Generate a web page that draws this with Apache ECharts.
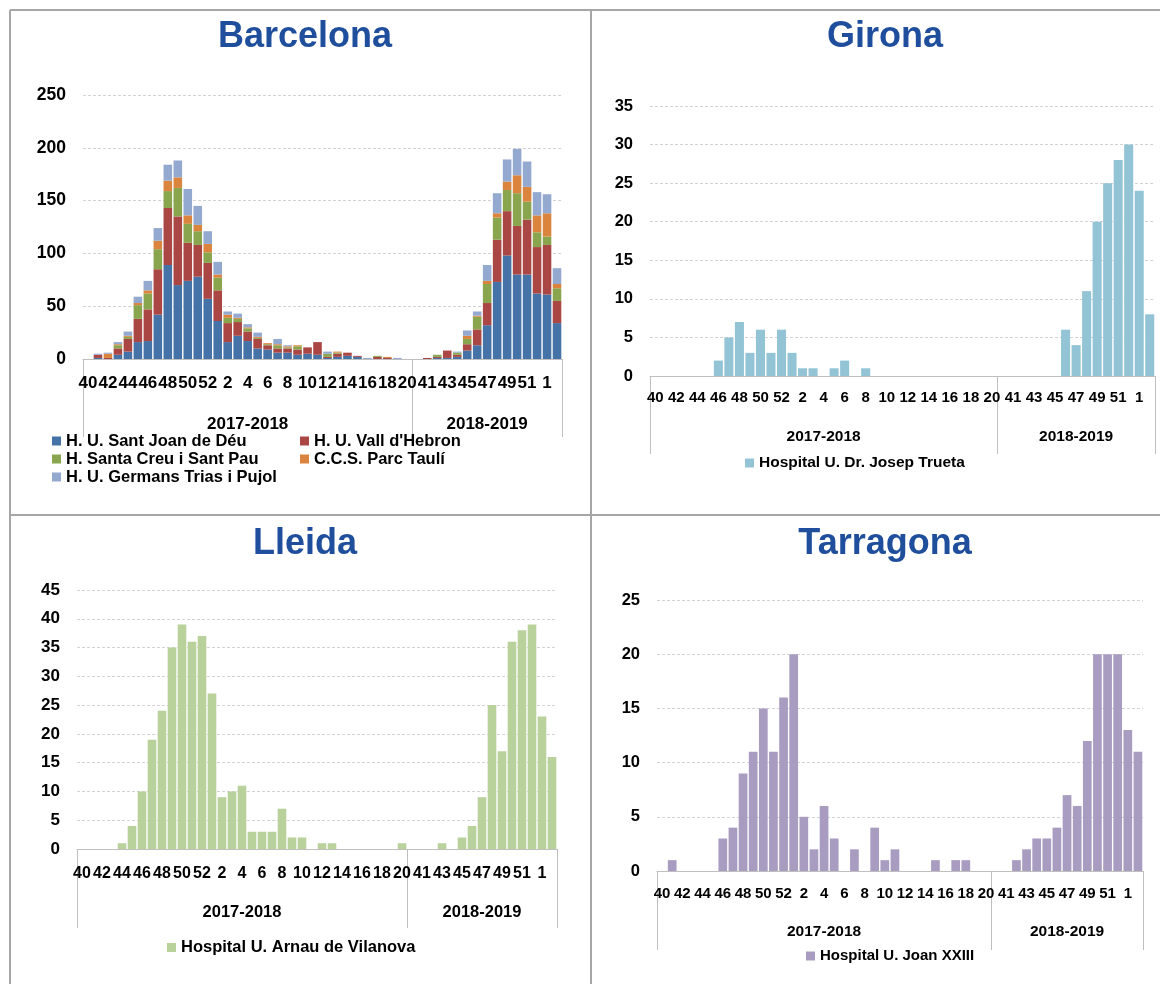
<!DOCTYPE html>
<html><head><meta charset="utf-8">
<script src="https://cdn.jsdelivr.net/npm/echarts@6/dist/echarts.min.js"></script>
<style>html,body{margin:0;padding:0;background:#fff}#c{width:1160px;height:984px}</style>
</head><body><div id="c"></div><script>
// ---- categories ----
const weeks1718 = [40,41,42,43,44,45,46,47,48,49,50,51,52,1,2,3,4,5,6,7,8,9,10,11,12,13,14,15,16,17,18,19,20];
const weeks1819 = [40,41,42,43,44,45,46,47,48,49,50,51,52,1,2];
const seasons = ['2017-2018', '2018-2019'];

// ---- Barcelona (stacked) ----
const bcnNames = ['H. U. Sant Joan de Déu', "H. U. Vall d'Hebron", 'H. Santa Creu i Sant Pau', 'C.C.S. Parc Taulí', 'H. U. Germans Trias i Pujol'];
const bcnSantJoan   = [0,1,0,4,7,16,17,42,89,70,74,78,57, 36,16,22,17,10,9,6,6,4,5,4,1,2,3,2,0,0,0,0,0, 0,0,1,1,2,8,13,32,73,98,80,80,62,61,34];
const bcnValldHebron= [0,3,1,6,12,22,30,43,54,65,36,30,34, 29,18,13,9,9,4,4,4,5,6,12,1,3,3,1,0,2,1,0,0, 0,1,1,7,2,6,15,21,40,42,46,52,44,47,21];
const bcnSantPau    = [0,0,0,3,2,13,15,19,16,27,18,13,10, 12,5,3,3,1,1,3,1,3,0,0,3,1,0,0,0,1,0,0,0, 0,0,2,0,2,5,12,18,21,20,31,17,14,8,12];
const bcnParcTauli  = [0,0,4,1,1,2,3,8,10,10,8,6,8, 3,3,1,1,1,1,1,1,1,0,0,0,1,0,0,0,0,1,0,0, 0,0,0,0,0,3,1,3,4,8,17,14,16,22,4];
const bcnGermansTrias=[0,1,1,2,4,6,9,12,15,16,25,18,12, 12,3,4,3,4,0,5,1,0,0,0,2,0,0,0,1,0,0,1,0, 0,0,0,0,1,5,4,15,19,21,25,24,22,18,15];

// ---- Girona ----
const gironaName = 'Hospital U. Dr. Josep Trueta';
const gironaVals = [0,0,0,0,0,0,2,5,7,3,6,3,6, 3,1,1,0,1,2,0,1,0,0,0,0,0,0,0,0,0,0,0,0, 0,0,0,0,0,0,6,4,11,20,25,28,30,24,8];

// ---- Lleida ----
const lleidaName = 'Hospital U. Arnau de Vilanova';
const lleidaVals = [0,0,0,0,1,4,10,19,24,35,39,36,37, 27,9,10,11,3,3,3,7,2,2,0,1,1,0,0,0,0,0,0,1, 0,0,0,1,0,2,4,9,25,17,36,38,39,23,16];

// ---- Tarragona ----
const tarragonaName = 'Hospital U. Joan XXIII';
const tarragonaVals = [0,1,0,0,0,0,3,4,9,11,15,11,16, 20,5,2,6,3,0,2,0,4,1,2,0,0,0,1,0,1,1,0,0, 0,0,1,2,3,3,4,7,6,12,20,20,20,13,11];

// ---- derived axis helpers ----
const seasonLens = [weeks1718.length, weeks1819.length];
const cats = weeks1718.map(w => seasons[0] + '|' + w).concat(weeks1819.map(w => seasons[1] + '|' + w));
const nCat = cats.length;
const bounds = [0, seasonLens[0], seasonLens[0] + seasonLens[1]];
const mids = [seasonLens[0] / 2, seasonLens[0] + seasonLens[1] / 2];

const FONT = '"Liberation Sans", Arial, sans-serif';
const AX = '#BFBFBF';

const panels = [
  {title: 'Barcelona', tx: 300, ty: 14, grid: {left: 83, top: 95, width: 479, height: 264}, max: 250, interval: 50, yfs: 17.5, cfs: 17, sfs: 17, cm: 16, sm: 57, tick: 78},
  {title: 'Girona', tx: 880, ty: 14, grid: {left: 650, top: 106, width: 505, height: 270}, max: 35, interval: 5, yfs: 16.5, cfs: 15, sfs: 15.5, cm: 14, sm: 53, tick: 78},
  {title: 'Lleida', tx: 300, ty: 521, grid: {left: 77, top: 590, width: 480, height: 259}, max: 45, interval: 5, yfs: 17, cfs: 16, sfs: 16.5, cm: 17, sm: 55, tick: 79},
  {title: 'Tarragona', tx: 880, ty: 521, grid: {left: 657, top: 600, width: 486, height: 271}, max: 25, interval: 5, yfs: 16.5, cfs: 15, sfs: 15.5, cm: 15, sm: 53, tick: 79}
];

const title = [], grid = [], xAxis = [], yAxis = [];
panels.forEach((p, g) => {
  title.push({text: p.title, left: p.tx, top: p.ty, textAlign: 'center',
    textStyle: {fontSize: 36, fontWeight: 'bold', color: '#1F4E9C', fontFamily: FONT}});
  grid.push(Object.assign({containLabel: false}, p.grid));
  xAxis.push({gridIndex: g, type: 'category', data: cats, boundaryGap: true,
    axisLine: {lineStyle: {color: AX, width: 1}}, axisTick: {show: false},
    axisLabel: {interval: 1, margin: p.cm, fontSize: p.cfs, fontWeight: 'bold', color: '#000', fontFamily: FONT,
      formatter: v => v.split('|')[1]}});
  xAxis.push({gridIndex: g, type: 'value', min: 0, max: nCat, position: 'bottom',
    axisLine: {show: false}, splitLine: {show: false},
    axisTick: {show: true, customValues: bounds, length: p.tick, lineStyle: {color: AX, width: 1}},
    axisLabel: {show: true, customValues: mids, margin: p.sm, fontSize: p.sfs, fontWeight: 'bold', color: '#000', fontFamily: FONT,
      formatter: v => seasons[mids.indexOf(v)]}});
  yAxis.push({gridIndex: g, type: 'value', min: 0, max: p.max, interval: p.interval,
    axisLine: {show: false}, axisTick: {show: false},
    axisLabel: {margin: 17, fontSize: p.yfs, fontWeight: 'bold', color: '#000', fontFamily: FONT},
    splitLine: {lineStyle: {color: '#D3D3D3', type: [3, 2], width: 1}}});
});

const bcnColors = ['#4572A7', '#AA4643', '#89A54E', '#DB843D', '#93A9CF'];
const bcnData = [bcnSantJoan, bcnValldHebron, bcnSantPau, bcnParcTauli, bcnGermansTrias];
const series = bcnData.map((d, k) => ({
  name: bcnNames[k], type: 'bar', stack: 'bcn', xAxisIndex: 0, yAxisIndex: 0, data: d,
  barCategoryGap: '14%', itemStyle: {color: bcnColors[k]}
}));
series.push({name: gironaName, type: 'bar', xAxisIndex: 2, yAxisIndex: 1, data: gironaVals, barCategoryGap: '14%', itemStyle: {color: '#93C4D6'}});
series.push({name: lleidaName, type: 'bar', xAxisIndex: 4, yAxisIndex: 2, data: lleidaVals, barCategoryGap: '14%', itemStyle: {color: '#B9D19B'}});
series.push({name: tarragonaName, type: 'bar', xAxisIndex: 6, yAxisIndex: 3, data: tarragonaVals, barCategoryGap: '14%', itemStyle: {color: '#A99CC1'}});

const legText = (fs, lh) => ({fontWeight: 'bold', color: '#000', fontFamily: FONT, fontSize: fs, lineHeight: lh});
const legBase = (extra) => Object.assign({icon: 'rect', itemWidth: 9, itemHeight: 9, selectedMode: false}, extra);
const legend = [
  legBase({data: [bcnNames[0], bcnNames[2], bcnNames[4]], orient: 'vertical', left: 47, top: 427, itemGap: 0, textStyle: legText(16.5, 18)}),
  legBase({data: [bcnNames[1], bcnNames[3]], orient: 'vertical', left: 295, top: 427, itemGap: 0, textStyle: legText(16.5, 18)}),
  legBase({data: [gironaName], left: 740, top: 450, textStyle: legText(15.5, 16)}),
  legBase({data: [lleidaName], left: 162, top: 934, textStyle: legText(16.5, 17)}),
  legBase({data: [tarragonaName], left: 801, top: 943, textStyle: legText(15, 16)})
];

const FR = '#A6A6A6';
const graphic = [
  {type: 'line', shape: {x1: 10, y1: 10, x2: 1160, y2: 10}, style: {stroke: FR, lineWidth: 2}},
  {type: 'line', shape: {x1: 10, y1: 10, x2: 10, y2: 984}, style: {stroke: FR, lineWidth: 2}},
  {type: 'line', shape: {x1: 591, y1: 10, x2: 591, y2: 984}, style: {stroke: FR, lineWidth: 2}},
  {type: 'line', shape: {x1: 10, y1: 515, x2: 1160, y2: 515}, style: {stroke: FR, lineWidth: 2}}
];

const chart = echarts.init(document.getElementById('c'), null, {renderer: 'canvas'});
chart.setOption({animation: false, backgroundColor: '#fff', title, grid, xAxis, yAxis, series, legend, graphic});
</script></body></html>
